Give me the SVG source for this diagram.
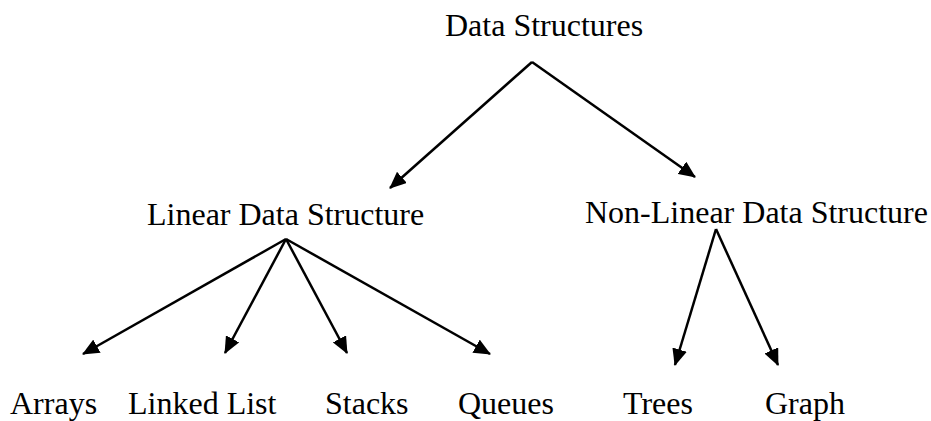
<svg xmlns="http://www.w3.org/2000/svg" width="931" height="421" viewBox="0 0 931 421">
<style>
text{font-family:"Liberation Serif","Times New Roman",serif;font-size:32px;fill:#000}
.c{stroke:#000;stroke-width:2.5;fill:none}
</style>
<defs>
<marker id="ah" markerUnits="userSpaceOnUse" markerWidth="17" markerHeight="15" viewBox="0 0 17 15" refX="16" refY="7.5" orient="auto">
<path d="M0,0 L17,7.5 L0,15 z" fill="#000"/>
</marker>
</defs>
<rect width="931" height="421" fill="#fff"/>
<g id="connectors">
<path class="c" d="M532,62 L390,188" marker-end="url(#ah)"/>
<path class="c" d="M532,62 L695,177" marker-end="url(#ah)"/>
<path class="c" d="M286,239 L83,354" marker-end="url(#ah)"/>
<path class="c" d="M286,239 L225,353" marker-end="url(#ah)"/>
<path class="c" d="M286,239 L347,353" marker-end="url(#ah)"/>
<path class="c" d="M286,239 L490,354" marker-end="url(#ah)"/>
<path class="c" d="M716,229 L675,365" marker-end="url(#ah)"/>
<path class="c" d="M716,229 L778,365" marker-end="url(#ah)"/>
</g>
<g id="data-structures"><text x="445" y="36">Data Structures</text></g>
<g id="linear"><text x="147" y="225">Linear Data Structure</text></g>
<g id="non-linear"><text x="585" y="223">Non-Linear Data Structure</text></g>
<g id="arrays"><text x="10" y="414">Arrays</text></g>
<g id="linked-list"><text x="128" y="414">Linked List</text></g>
<g id="stacks"><text x="325" y="414">Stacks</text></g>
<g id="queues"><text x="458" y="414">Queues</text></g>
<g id="trees"><text x="623" y="414">Trees</text></g>
<g id="graph"><text x="765" y="414">Graph</text></g>
</svg>
